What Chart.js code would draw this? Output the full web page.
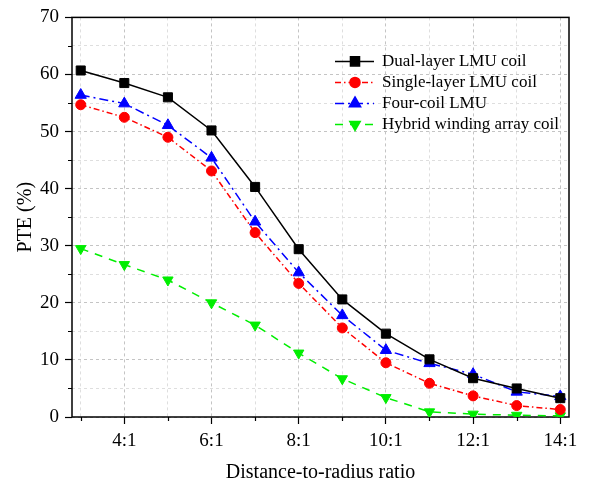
<!DOCTYPE html>
<html>
<head>
<meta charset="utf-8">
<script src="https://cdn.jsdelivr.net/npm/chart.js@4.4.0/dist/chart.umd.min.js"></script>
<style>
  body { margin: 0; background: #fff; }
  canvas { display: block; }
</style>
</head>
<body>
<canvas id="pteChart" width="590" height="486"></canvas>
<script>
// distance-to-radius ratios (n:1)
var ratios = [3, 4, 5, 6, 7, 8, 9, 10, 11, 12, 13, 14];
var dualLayer = [60.7, 58.5, 56.0, 50.2, 40.3, 29.4, 20.6, 14.6, 10.1, 6.8, 5.0, 3.3];
var singleLayer = [54.7, 52.5, 49.0, 43.1, 32.3, 23.4, 15.6, 9.5, 5.9, 3.7, 2.0, 1.3];
var fourCoil = [56.4, 54.9, 51.1, 45.4, 34.2, 25.3, 17.8, 11.7, 9.4, 7.5, 4.4, 3.6];
var hybridArray = [29.5, 26.7, 24.0, 20.0, 16.1, 11.2, 6.7, 3.4, 0.9, 0.5, 0.3, 0.2];
var yTicks = [0, 5, 10, 15, 20, 25, 30, 35, 40, 45, 50, 55, 60, 65, 70];

function points(values) {
    return ratios.map(function (r, i) { return { x: r, y: values[i] }; });
}

var serif = "'Liberation Serif', 'Times New Roman', serif";
Chart.defaults.font.family = serif;
Chart.defaults.color = '#000';

// box around the plot area plus the short minor ticks
var framePlugin = {
    id: 'frame',
    beforeDatasetsDraw: function (chart) {
        var a = chart.chartArea, c = chart.ctx;
        c.save();
        c.strokeStyle = '#000';
        c.lineWidth = 1.5;
        c.strokeRect(a.left, a.top, a.right - a.left, a.bottom - a.top);
        c.lineWidth = 1.2;
        c.beginPath();
        yTicks.forEach(function (v) {
            if (v % 10 !== 0) {
                var py = Math.round(chart.scales.y.getPixelForValue(v)) + 0.5;
                c.moveTo(a.left - 4, py);
                c.lineTo(a.left, py);
            }
        });
        ratios.forEach(function (v) {
            if (v % 2 !== 0) {
                var px = Math.round(chart.scales.x.getPixelForValue(v)) + 0.5;
                c.moveTo(px, a.bottom);
                c.lineTo(px, a.bottom + 4);
            }
        });
        c.stroke();
        c.restore();
    }
};

// legend inside the plot, line sample with marker
var legendPlugin = {
    id: 'innerLegend',
    afterDatasetsDraw: function (chart) {
        var c = chart.ctx;
        var x0 = chart.chartArea.right - 234;
        var y0 = chart.chartArea.top + 44;
        c.save();
        chart.data.datasets.forEach(function (ds, i) {
            var y = y0 + i * 21;
            c.strokeStyle = ds.borderColor;
            c.lineWidth = ds.borderWidth;
            c.setLineDash(ds.borderDash || []);
            c.beginPath();
            c.moveTo(x0, y);
            c.lineTo(x0 + 39, y);
            c.stroke();
            c.setLineDash([]);
            c.fillStyle = ds.pointBackgroundColor;
            c.strokeStyle = ds.pointBorderColor;
            Chart.helpers.drawPoint(c, {
                pointStyle: ds.pointStyle,
                radius: ds.pointRadius,
                rotation: ds.pointRotation || 0,
                borderWidth: 1
            }, x0 + 20, y);
            c.fillStyle = '#000';
            c.font = '17px ' + serif;
            c.textBaseline = 'middle';
            c.fillText(ds.label, x0 + 47, y);
        });
        c.restore();
    }
};

function series(label, values, color, style, radius, dash, rotation) {
    return {
        label: label,
        data: points(values),
        borderColor: color,
        backgroundColor: color,
        pointBackgroundColor: color,
        pointBorderColor: color,
        pointBorderWidth: 1,
        pointStyle: style,
        pointRadius: radius,
        pointHoverRadius: radius,
        pointRotation: rotation || 0,
        borderWidth: 1.5,
        borderDash: dash,
        tension: 0,
        fill: false
    };
}

var ctx = document.getElementById('pteChart').getContext('2d');
var pteChart = new Chart(ctx, {
    type: 'line',
    data: {
        datasets: [
            series('Dual-layer LMU coil', dualLayer, '#000000', 'rect', 6.4, []),
            series('Single-layer LMU coil', singleLayer, '#ff0000', 'circle', 5, [6, 3, 1.5, 3]),
            series('Four-coil LMU', fourCoil, '#0000ff', 'triangle', 6.5, [9, 4, 2, 4]),
            series('Hybrid winding array coil', hybridArray, '#00ee00', 'triangle', 6, [8, 7], 180)
        ]
    },
    plugins: [framePlugin, legendPlugin],
    options: {
        responsive: false,
        animation: false,
        layout: { padding: { top: 16, right: 21, left: 0, bottom: 0 } },
        plugins: {
            legend: { display: false },
            tooltip: { enabled: false }
        },
        scales: {
            x: {
                type: 'linear',
                min: 2.8,
                max: 14.2,
                afterBuildTicks: function (s) {
                    s.ticks = ratios.map(function (v) { return { value: v }; });
                },
                afterFit: function (s) { s.height = 69; },
                ticks: {
                    autoSkip: false,
                    maxRotation: 0,
                    padding: 6,
                    color: '#000',
                    font: { size: 19 },
                    callback: function (v) { return v % 2 === 0 ? v + ':1' : ''; }
                },
                grid: {
                    color: function (c) { return c.tick && c.tick.value % 2 === 0 ? '#c4c4c4' : '#dedede'; },
                    lineWidth: 1,
                    tickLength: 7,
                    tickWidth: 1.2,
                    tickColor: function (c) { return c.tick && c.tick.value % 2 === 0 ? '#000' : 'rgba(0,0,0,0)'; }
                },
                border: { display: false, dash: [3, 3] },
                title: {
                    display: true,
                    text: 'Distance-to-radius ratio',
                    color: '#000',
                    font: { size: 20 },
                    padding: { top: 0, bottom: 1 }
                }
            },
            y: {
                min: 0,
                max: 70,
                afterBuildTicks: function (s) {
                    s.ticks = yTicks.map(function (v) { return { value: v }; });
                },
                afterFit: function (s) { s.width = 72; },
                ticks: {
                    autoSkip: false,
                    padding: 6,
                    color: '#000',
                    font: { size: 19 },
                    callback: function (v) { return v % 10 === 0 ? v : ''; }
                },
                grid: {
                    color: function (c) { return c.tick && c.tick.value % 10 === 0 ? '#c4c4c4' : '#dedede'; },
                    lineWidth: 1,
                    tickLength: 7,
                    tickWidth: 1.2,
                    tickColor: function (c) { return c.tick && c.tick.value % 10 === 0 ? '#000' : 'rgba(0,0,0,0)'; }
                },
                border: { display: false, dash: [3, 3] },
                title: {
                    display: true,
                    text: 'PTE (%)',
                    color: '#000',
                    font: { size: 20 },
                    padding: { top: 14, bottom: 0 }
                }
            }
        }
    }
});
</script>
</body>
</html>
